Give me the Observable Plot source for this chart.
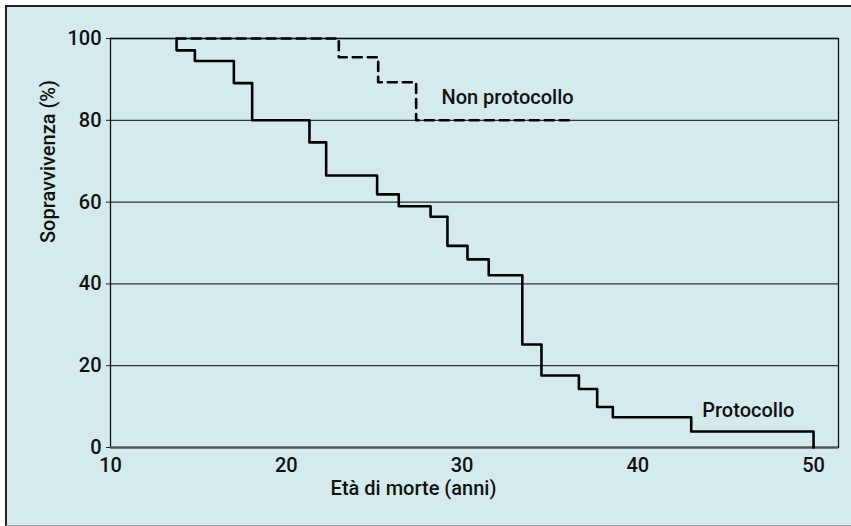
<!DOCTYPE html>
<html><head><meta charset="utf-8">
<script src="https://cdn.jsdelivr.net/npm/d3@7"></script>
<script src="https://cdn.jsdelivr.net/npm/@observablehq/plot@0.6"></script>
<style>
html,body{margin:0;padding:0;background:#fff;}
#wrap{position:relative;width:851px;height:526px;overflow:hidden;}
#box{position:absolute;left:5px;top:5px;width:860px;height:518px;background:#d5eaec;border-left:2px solid #222;border-top:2px solid #222;border-bottom:1px solid #9aa;}
#chart{position:absolute;left:0;top:0;}
</style></head><body>
<div id="wrap"><div id="box"></div><div id="chart"></div></div>
<script>
// Età (anni) e sopravvivenza (%) — curva "Protocollo"
const protocolloEta  = [13.76, 13.76, 14.80, 17.02, 18.06, 21.32, 22.27, 25.17, 26.40, 28.21, 29.17, 30.31, 31.52, 33.43, 34.52, 36.65, 37.69, 38.58, 43.04, 50.0];
const protocolloSopr = [100,   97.1,  94.5,  89.1,  80,    74.6,  66.5,  61.9,  59.0,  56.4,  49.3,  46.0,  42.1,  25.2,  17.6,  14.3,  9.9,   7.4,   3.9,   0];
// Curva "Non protocollo"
const nonProtocolloEta  = [13.76, 22.99, 25.23, 27.39, 36.36];
const nonProtocolloSopr = [100,   95.4,  89.3,  80,    80];
// Assi
const xTicks = [10, 20, 30, 40, 50];
const yTicks = [0, 20, 40, 60, 80, 100];
const xTitolo = "Età di morte (anni)";
const yTitolo = "Sopravvivenza (%)";
// Etichette delle curve
const etichette  = ["Non protocollo", "Protocollo"];
const etichetteX = [28.83, 43.67];
const etichetteY = [85.6, 9.0];

const prot = protocolloEta.map((x, i) => ({x, y: protocolloSopr[i]}));
const non = nonProtocolloEta.map((x, i) => ({x, y: nonProtocolloSopr[i]}));
const lab = etichette.map((t, i) => ({t, x: etichetteX[i], y: etichetteY[i]}));

const font = 'Roboto, "Liberation Sans", Arial, sans-serif';
const fs = 20;
const chart = Plot.plot({
  width: 851, height: 526,
  marginLeft: 110, marginRight: 13, marginTop: 38, marginBottom: 79,
  style: {background: "transparent", fontFamily: font, fontSize: fs + "px", fontWeight: 500, color: "#111", overflow: "visible"},
  x: {domain: [10, 51.42]},
  y: {domain: [0, 100]},
  marks: [
    Plot.ruleY(yTicks, {stroke: "#2c3838", strokeWidth: 1.3}),
    Plot.frame({stroke: "#111", strokeWidth: 1.3}),
    Plot.ruleY([0], {stroke: "#555", strokeWidth: 2}),
    Plot.axisX(xTicks, {tickSize: 0, tickPadding: 10, label: null, fontSize: fs, fill: "#111"}),
    Plot.axisY(yTicks, {tickSize: 4, tickPadding: 5, label: null, fontSize: fs, fill: "#111", stroke: "#222"}),
    Plot.line(prot, {x: "x", y: "y", curve: "step-after", stroke: "#000", strokeWidth: 2.6}),
    Plot.line(non, {x: "x", y: "y", curve: "step-after", stroke: "#000", strokeWidth: 2.6, strokeDasharray: "9,6"}),
    Plot.text(lab, {x: "x", y: "y", text: "t", textAnchor: "start", fontSize: fs, fill: "#111"}),
    Plot.text([xTitolo], {frameAnchor: "bottom", dy: 47, dx: -61, fontSize: fs, fill: "#111"}),
    Plot.text([yTitolo], {frameAnchor: "left", rotate: -90, dx: -62, fontSize: fs, fill: "#111"})
  ]
});
document.getElementById("chart").appendChild(chart);
</script>
</body></html>
